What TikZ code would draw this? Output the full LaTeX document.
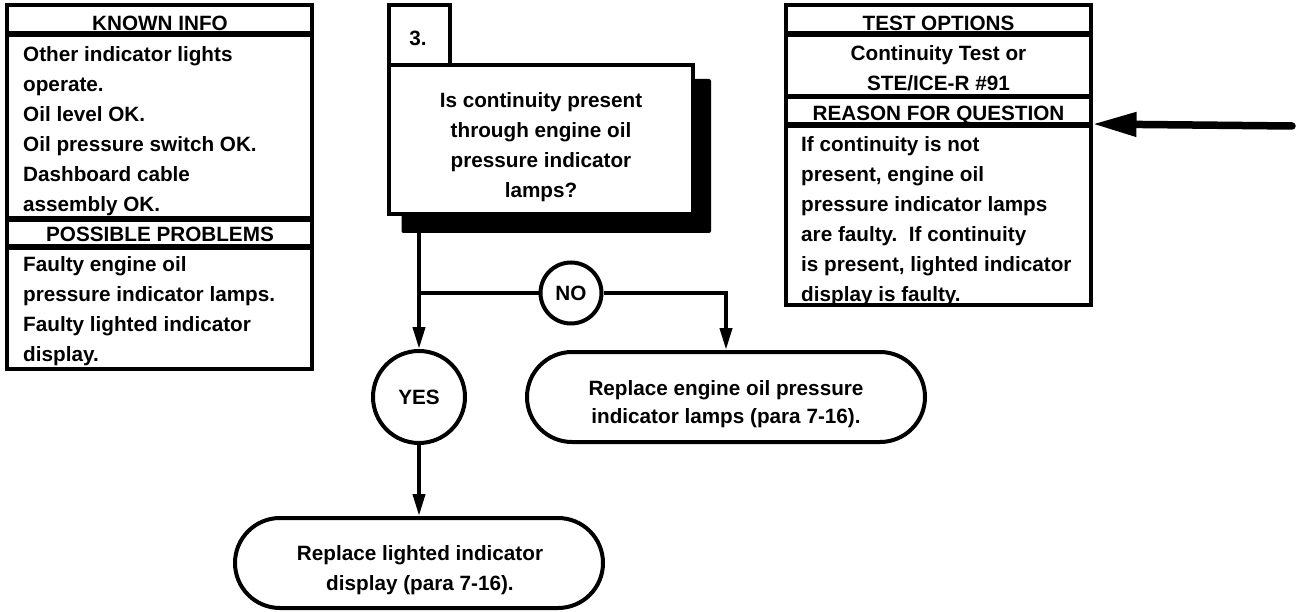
\documentclass[tikz,border=0pt]{standalone}
\usepackage{fontspec}
\setmainfont{Liberation Sans}
\usetikzlibrary{arrows.meta,fit}
\newcommand\diagfont{\fontsize{20.7}{30}\selectfont\bfseries}
\newcommand\diagfontb{\fontsize{20.7}{28}\selectfont\bfseries}
\newcommand\fstrut{\rule{0pt}{16pt}}
\begin{document}
\begin{tikzpicture}[x=1pt,y=-1pt,
  sect/.style={draw, line width=4pt, inner sep=0pt},
  term/.style={draw, line width=4pt, inner sep=0pt, rounded corners=45pt},
  circ/.style={draw, circle, line width=4pt, inner sep=0pt, fill=white, font=\diagfont},
  ltxt/.style={inner sep=0pt, anchor=north west, align=left, font=\diagfont},
  ctxt/.style={inner sep=0pt, anchor=north, align=center, font=\diagfont},
  conn/.style={line width=4pt, -{Triangle[width=12pt,length=22pt]}},
  plainline/.style={line width=4pt}]
\useasboundingbox (0,0) rectangle (1298,612);

% left box
\node[sect, fit={(7,5)(312,33.5)}] (kh) {};
\node[sect, fit={(7,35)(312,218.5)}] (kb) {};
\node[sect, fit={(7,220)(312,246.5)}] (ph) {};
\node[sect, fit={(7,248)(312,369)}] (pb) {};
\node[ctxt] (tkh) at (160,14) {\fstrut KNOWN INFO};
\node[ltxt] (tkb) at (23,45.5) {\fstrut Other indicator lights\\operate.\\Oil level OK.\\Oil pressure switch OK.\\Dashboard cable\\assembly OK.};
\node[ctxt] (tph) at (160,225.5) {\fstrut POSSIBLE PROBLEMS};
\node[ltxt] (tpb) at (23,255.5) {\fstrut Faulty engine oil\\pressure indicator lamps.\\Faulty lighted indicator\\display.};

% right box
\node[sect, fit={(786,5)(1090.5,33.5)}] (th) {};
\node[sect, fit={(786,35)(1090.5,96)}] (tb) {};
\node[sect, fit={(786,97.5)(1090.5,124.5)}] (rh) {};
\node[sect, fit={(786,126)(1090.5,305)}] (rb) {};
\node[ctxt] (tth) at (938.5,14) {\fstrut TEST OPTIONS};
\node[ctxt] (ttb) at (938.5,44.5) {\fstrut Continuity Test or\\STE/ICE-R \#91};
\node[ctxt] (trh) at (938.5,104.7) {\fstrut REASON FOR QUESTION};
\node[ltxt] (trb) at (801,135.7) {\fstrut If continuity is not\\present, engine oil\\pressure indicator lamps\\are faulty.\ \ If continuity\\is present, lighted indicator\\display is faulty.};

\coordinate (asrc) at (1292,126);
\draw[line width=7.5pt, line cap=round, -{Triangle[width=23pt,length=44pt]}] (asrc) -- (rb.north east);

% question box
\node[fill=black, inner sep=0pt, rounded corners=2pt, fit={(401.5,79)(711,233)}] (shadow) {};
\node[sect, fit={(388.5,5.3)(449.5,65.5)}] (numbox) {};
\node[sect, fill=white, fit={(388.5,65.5)(693,214)}] (qbox) {};
\node[ctxt] (tnum) at (418,29) {\fstrut 3.};
\node[ctxt] (tq) at (541,91) {\fstrut Is continuity present\\through engine oil\\pressure indicator\\lamps?};

% decisions
\node[circ, minimum size=61pt] (no) at (571,293) {NO};
\node[circ, minimum size=92pt] (yes) at (419,397) {YES};

% terminals
\node[term, fit={(527,352)(925,442)}] (rrep) {};
\node[ctxt, font=\diagfontb] (trrep) at (726,379) {\fstrut Replace engine oil pressure\\indicator lamps (para 7-16).};
\node[term, fit={(235,518)(603,608)}] (brep) {};
\node[ctxt] (tbrep) at (420,544) {\fstrut Replace lighted indicator\\display (para 7-16).};

% connectors
\draw[conn] (shadow.south -| yes.north) -- (yes.north);
\draw[plainline] (no.west -| yes.north) -- (no.west);
\draw[conn] (no.east) -| (rrep.north);
\draw[conn] (yes.south) -- (brep.north);
\end{tikzpicture}
\end{document}
